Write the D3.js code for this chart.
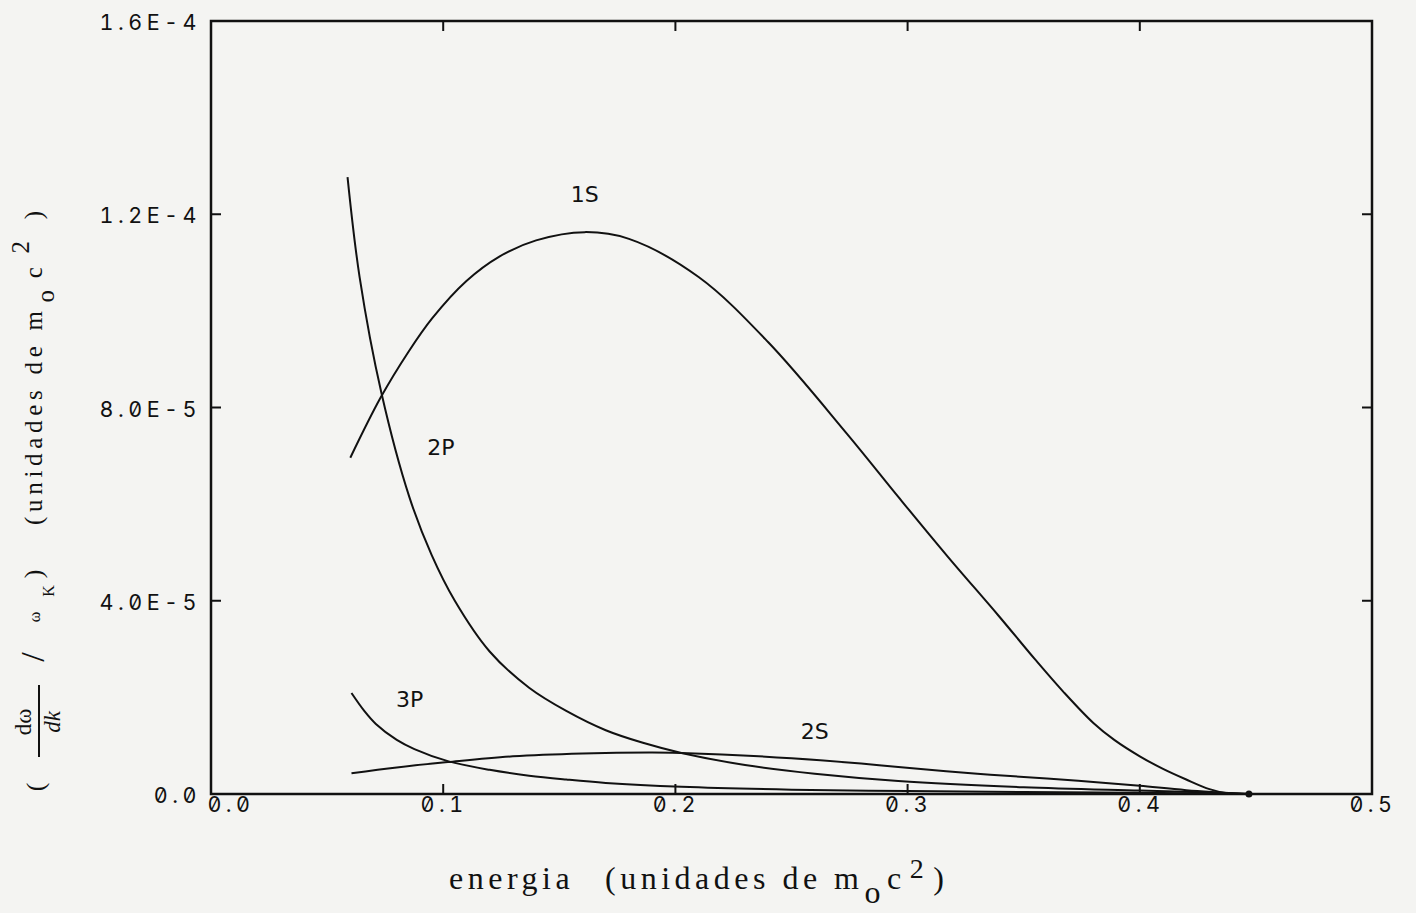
<!DOCTYPE html>
<html>
<head>
<meta charset="utf-8">
<script src="https://cdn.jsdelivr.net/npm/d3@7"></script>
<style>
  html, body { margin: 0; padding: 0; background: #f4f4f2; }
  svg { display: block; }
  .tick-label { font-family: Inter, "DejaVu Sans", sans-serif; font-size: 21.5px; letter-spacing: 4.5px; fill: #111;
                font-variant-numeric: slashed-zero tabular-nums; font-feature-settings: "zero" 1, "tnum" 1; }
  .curve-label { font-family: "DejaVu Sans", sans-serif; font-size: 22px; fill: #111; }
  .title { font-family: "Liberation Serif", serif; fill: #111; }
</style>
</head>
<body>
<svg id="chart" width="1416" height="913"></svg>
<script>
// Photon emission spectra per shell: energy (units of m0c^2) vs (dω/dk)/ωK
const energy1S = [0.060, 0.073, 0.085, 0.0953, 0.110, 0.124, 0.140, 0.161, 0.180, 0.210, 0.240, 0.274, 0.296, 0.317, 0.339, 0.355, 0.367, 0.380, 0.389, 0.400, 0.410, 0.420, 0.430, 0.437, 0.447];
const rate1S   = [6.96e-5, 8.2e-5, 9.15e-5, 9.85e-5, 1.062e-4, 1.112e-4, 1.146e-4, 1.163e-4, 1.149e-4, 1.07e-4, 9.35e-5, 7.45e-5, 6.15e-5, 4.93e-5, 3.7e-5, 2.78e-5, 2.12e-5, 1.47e-5, 1.12e-5, 7.8e-6, 5.2e-6, 3.0e-6, 1.0e-6, 2e-7, 0];

const energy2P = [0.0588, 0.064, 0.0734, 0.0854, 0.095, 0.105, 0.120, 0.137, 0.153, 0.170, 0.186, 0.2026, 0.230, 0.260, 0.296, 0.350, 0.400, 0.430, 0.447];
const rate2P   = [1.277e-4, 1.07e-4, 8.3e-5, 6.15e-5, 4.95e-5, 4.0e-5, 2.95e-5, 2.2e-5, 1.72e-5, 1.32e-5, 1.06e-5, 8.5e-6, 6.0e-6, 4.2e-6, 2.7e-6, 1.4e-6, 7e-7, 3e-7, 0];

const energy3P = [0.0605, 0.066, 0.071, 0.080, 0.0876, 0.102, 0.120, 0.137, 0.153, 0.170, 0.2026, 0.250, 0.300, 0.350, 0.400, 0.447];
const rate3P   = [2.09e-5, 1.72e-5, 1.45e-5, 1.12e-5, 9.3e-6, 6.8e-6, 5.0e-6, 3.8e-6, 3.0e-6, 2.3e-6, 1.5e-6, 9e-7, 6e-7, 4e-7, 2.5e-7, 0];

const energy2S = [0.0605, 0.080, 0.102, 0.130, 0.160, 0.190, 0.2026, 0.220, 0.250, 0.280, 0.296, 0.330, 0.360, 0.380, 0.400, 0.420, 0.447];
const rate2S   = [4.3e-6, 5.5e-6, 6.6e-6, 7.8e-6, 8.4e-6, 8.6e-6, 8.5e-6, 8.2e-6, 7.4e-6, 6.3e-6, 5.6e-6, 4.2e-6, 3.2e-6, 2.5e-6, 1.7e-6, 8e-7, 0];

const seriesNames = ["1S", "2P", "3P", "2S"];
const labelAt = { "1S": [0.161, 1.24e-4], "2P": [0.099, 7.18e-5], "3P": [0.0855, 1.95e-5], "2S": [0.260, 1.30e-5] };

const xTicks = [0.0, 0.1, 0.2, 0.3, 0.4, 0.5];
const xTickLabels = ["0.0", "0.1", "0.2", "0.3", "0.4", "0.5"];
const yTicks = [0, 4e-5, 8e-5, 1.2e-4, 1.6e-4];
const yTickLabels = ["0.0", "4.0E-5", "8.0E-5", "1.2E-4", "1.6E-4"];

const series = {
  "1S": d3.zip(energy1S, rate1S),
  "2P": d3.zip(energy2P, rate2P),
  "3P": d3.zip(energy3P, rate3P),
  "2S": d3.zip(energy2S, rate2S)
};

const svg = d3.select("#chart");
const margin = { left: 211, right: 1372, top: 21, bottom: 794 };

const x = d3.scaleLinear().domain([0, 0.5]).range([margin.left, margin.right]);
const y = d3.scaleLinear().domain([0, 1.6e-4]).range([margin.bottom, margin.top]);

// frame
svg.append("rect")
  .attr("x", x(0)).attr("y", y(1.6e-4))
  .attr("width", x(0.5) - x(0)).attr("height", y(0) - y(1.6e-4))
  .attr("fill", "none").attr("stroke", "#111").attr("stroke-width", 2.5);

// inward ticks on all four sides
const tickLen = 10;
const inner = xTicks.slice(1, -1);
const innerY = yTicks.slice(1, -1);
const tickG = svg.append("g").attr("stroke", "#111").attr("stroke-width", 2);
inner.forEach(v => {
  tickG.append("line").attr("x1", x(v)).attr("x2", x(v)).attr("y1", y(0)).attr("y2", y(0) - tickLen);
  tickG.append("line").attr("x1", x(v)).attr("x2", x(v)).attr("y1", y(1.6e-4)).attr("y2", y(1.6e-4) + tickLen);
});
innerY.forEach(v => {
  tickG.append("line").attr("x1", x(0)).attr("x2", x(0) + tickLen).attr("y1", y(v)).attr("y2", y(v));
  tickG.append("line").attr("x1", x(0.5)).attr("x2", x(0.5) - tickLen).attr("y1", y(v)).attr("y2", y(v));
});

// tick labels
svg.append("g").selectAll("text").data(xTicks).join("text")
  .attr("class", "tick-label")
  .attr("x", (d, i) => x(d) + (i === 0 ? 20 : 1))
  .attr("y", y(0) + 10)
  .attr("dominant-baseline", "central")
  .attr("text-anchor", "middle")
  .text((d, i) => xTickLabels[i]);

svg.append("g").selectAll("text").data(yTicks).join("text")
  .attr("class", "tick-label")
  .attr("x", 201)
  .attr("y", d => y(d) + 1)
  .attr("dominant-baseline", "central")
  .attr("text-anchor", "end")
  .text((d, i) => yTickLabels[i]);

// curves
const line = d3.line()
  .x(d => x(d[0]))
  .y(d => y(d[1]))
  .curve(d3.curveCatmullRom.alpha(0.5));

seriesNames.forEach(name => {
  svg.append("path")
    .datum(series[name])
    .attr("d", line)
    .attr("fill", "none")
    .attr("stroke", "#111")
    .attr("stroke-width", 2);
  const p = labelAt[name];
  svg.append("text")
    .attr("class", "curve-label")
    .attr("x", x(p[0])).attr("y", y(p[1]))
    .attr("text-anchor", "middle")
    .attr("dominant-baseline", "central")
    .text(name);
});

// end-of-range marker on the 1S curve
const last1S = series["1S"][series["1S"].length - 1];
svg.append("circle").attr("cx", x(last1S[0])).attr("cy", y(last1S[1])).attr("r", 3.5).attr("fill", "#111");

// x-axis title
const xt = svg.append("g").attr("class", "title").style("font-size", "32px").style("letter-spacing", "4.5px");
xt.append("text").attr("x", 449).attr("y", 889).text("energia");
const xt2 = xt.append("text").attr("x", 605).attr("y", 889);
xt2.append("tspan").text("(unidades de m");
xt2.append("tspan").attr("dy", 14).attr("dx", 1).text("o");
xt2.append("tspan").attr("dy", -14).attr("dx", 2).text("c");
xt2.append("tspan").attr("dy", -11).attr("dx", 4).style("font-size", "28px").text("2");
xt2.append("tspan").attr("dy", 11).attr("dx", 5).text(")");

// y-axis title (rotated)
const yt = svg.append("g").attr("class", "title").attr("transform", "rotate(-90)");
const t = (tx, ty, s, size, extra) => yt.append("text")
  .attr("x", -tx).attr("y", ty).attr("text-anchor", "middle")
  .style("font-size", size + "px").style("font-style", extra || "normal").text(s);
t(787, 44, "(", 26);
t(722, 31, "dω", 23);
yt.append("line").attr("x1", -757).attr("x2", -685).attr("y1", 39).attr("y2", 39)
  .attr("stroke", "#111").attr("stroke-width", 2);
t(722, 60, "dk", 23, "italic");
t(657, 44, "/", 34);
t(617, 40, "ω", 16);
t(591, 54, "K", 16);
t(574, 42, ")", 26);
const yt2 = yt.append("text").attr("x", -525).attr("y", 42)
  .style("font-size", "25px").style("letter-spacing", "4.7px");
yt2.append("tspan").text("(unidades de m");
yt2.append("tspan").attr("dy", 12).attr("dx", 4).text("o");
yt2.append("tspan").attr("dy", -12).attr("dx", 7).text("c");
yt2.append("tspan").attr("dy", -13).attr("dx", 9).text("2");
yt2.append("tspan").attr("dy", 13).attr("dx", 17).text(")");
</script>
</body>
</html>
